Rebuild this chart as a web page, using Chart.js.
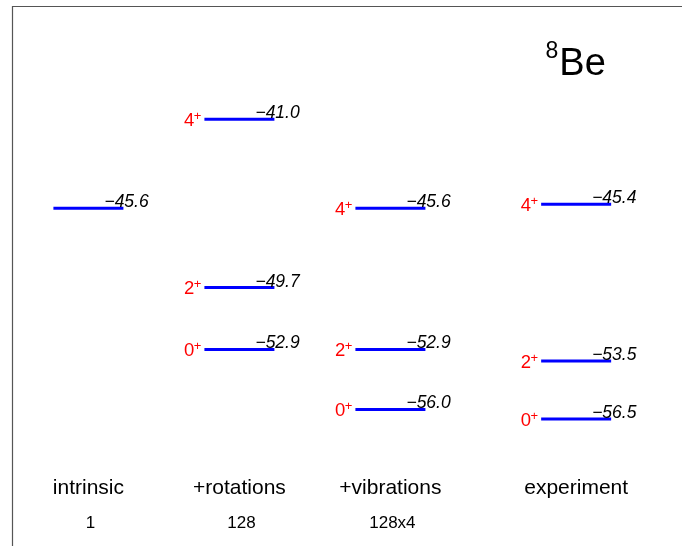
<!DOCTYPE html>
<html>
<head>
<meta charset="utf-8">
<script src="https://cdn.jsdelivr.net/npm/chart.js@4"></script>
<style>
  html, body { margin: 0; padding: 0; background: #fff; }
  #wrap { width: 682px; height: 546px; }
</style>
</head>
<body>
<div id="wrap"><canvas id="levelChart"></canvas></div>
<script>
// columns of the level scheme
const columns = ['intrinsic', '+rotations', '+vibrations', 'experiment'];
const counts = ['1', '128', '128x4', ''];

// energies (MeV) and spin labels per column
const intrinsicEnergies = [-45.6];
const intrinsicSpins = [''];
const rotationEnergies = [-41.0, -49.7, -52.9];
const rotationSpins = ['4', '2', '0'];
const vibrationEnergies = [-45.6, -52.9, -56.0];
const vibrationSpins = ['4', '2', '0'];
const experimentEnergies = [-45.4, -53.5, -56.5];
const experimentSpins = ['4', '2', '0'];

// layout: experiment column sits a little further out
const columnX = [0, 1, 2, 3.23];

const FONT = "'Liberation Sans', Arial, Helvetica, sans-serif";
const levelBlue = '#0000ff';

const energySets = [intrinsicEnergies, rotationEnergies, vibrationEnergies, experimentEnergies];
const spinSets = [intrinsicSpins, rotationSpins, vibrationSpins, experimentSpins];

const datasets = energySets.map((energies, c) => ({
    label: columns[c],
    data: energies.map(e => ({ x: columnX[c], y: e })),
    spins: spinSets[c],
    pointStyle: 'line',
    pointRadius: 35,
    pointHoverRadius: 35,
    pointBorderWidth: 3,
    pointBorderColor: levelBlue,
    pointBackgroundColor: levelBlue,
    showLine: false
}));

const levelLabels = {
    id: 'levelLabels',
    afterDatasetsDraw(chart) {
        const ctx = chart.ctx;
        const area = chart.chartArea;
        const xs = chart.scales.x;
        ctx.save();

        // frame (only left and top edges show)
        ctx.strokeStyle = '#555';
        ctx.lineWidth = 1.2;
        ctx.beginPath();
        ctx.moveTo(area.left + 0.5, area.bottom);
        ctx.lineTo(area.left + 0.5, area.top + 0.5);
        ctx.lineTo(area.right, area.top + 0.5);
        ctx.stroke();

        chart.data.datasets.forEach((ds, i) => {
            const meta = chart.getDatasetMeta(i);
            meta.data.forEach((pt, j) => {
                const r = ds.pointRadius;
                const val = ds.data[j].y;
                // energy value, italic, sitting on the right end of the level
                ctx.fillStyle = '#000';
                ctx.font = 'italic 17.5px ' + FONT;
                ctx.textAlign = 'left';
                ctx.textBaseline = 'alphabetic';
                ctx.fillText('\u2212' + Math.abs(val).toFixed(1), pt.x + r - 19, pt.y - 1);

                // spin-parity on the left
                const spin = ds.spins[j];
                if (spin) {
                    ctx.fillStyle = '#ff0000';
                    ctx.font = '13px ' + FONT;
                    const plusW = ctx.measureText('+').width;
                    const plusX = pt.x - r - 3 - plusW;
                    ctx.fillText('+', plusX, pt.y + 0.5);
                    ctx.font = '18.5px ' + FONT;
                    ctx.textAlign = 'right';
                    ctx.fillText(spin, plusX + 0.5, pt.y + 6.5);
                }
            });
        });

        // column titles and basis sizes
        ctx.fillStyle = '#000';
        ctx.textAlign = 'center';
        columns.forEach((name, i) => {
            const x = xs.getPixelForValue(columnX[i]);
            ctx.font = '21px ' + FONT;
            ctx.fillText(name, x, area.top + 487.5);
            if (counts[i]) {
                ctx.font = '17px ' + FONT;
                ctx.fillText(counts[i], x + 2, area.top + 521.5);
            }
        });

        // nucleus label
        const tx = xs.getPixelForValue(columnX[3]);
        ctx.textAlign = 'left';
        ctx.font = '38px ' + FONT;
        const beW = ctx.measureText('Be').width;
        ctx.font = '23px ' + FONT;
        const eightW = ctx.measureText('8').width;
        const startX = tx - (beW + eightW) / 2 - 1;
        ctx.fillText('8', startX, area.top + 51.5);
        ctx.font = '38px ' + FONT;
        ctx.fillText('Be', startX + eightW + 1, area.top + 69);

        ctx.restore();
    }
};

new Chart(document.getElementById('levelChart'), {
    type: 'scatter',
    data: { datasets: datasets },
    options: {
        responsive: true,
        maintainAspectRatio: false,
        animation: false,
        events: [],
        layout: { autoPadding: false, padding: { left: 12, top: 6, right: 0, bottom: 0 } },
        plugins: { legend: { display: false }, tooltip: { enabled: false } },
        scales: {
            x: { type: 'linear', display: false, min: -0.506, max: 3.931 },
            y: { type: 'linear', display: false, min: -63.06, max: -35.15 }
        }
    },
    plugins: [levelLabels]
});
</script>
</body>
</html>
